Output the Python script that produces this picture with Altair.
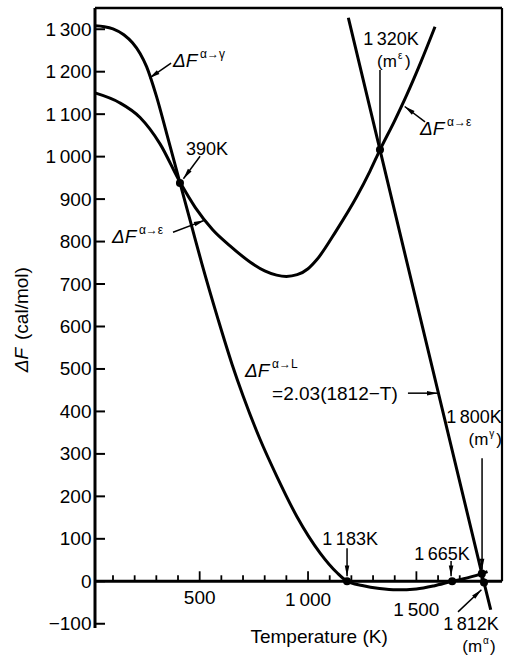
import math
import altair as alt
import pandas as pd

# ---------------- scale frame ----------------
X_MIN, X_MAX = 17, 1895
Y_MIN, Y_MAX = -110, 1350
W, H = 407, 620
PX_T = W / (X_MAX - X_MIN)
PX_F = H / (Y_MAX - Y_MIN)
FONT = "Liberation Sans"
TS = "\u2009"

# ---------------- curves ----------------
gamma_T = [17, 60, 100, 150, 190, 225, 255, 300, 350, 409, 460, 510, 586, 650, 700, 778, 857, 949, 1055, 1134, 1180,
           1250, 1330, 1410, 1500, 1580, 1665, 1735, 1802, 1828]
gamma_F = [1308, 1306, 1301, 1287, 1268, 1243, 1212, 1143, 1050, 938, 842, 748, 615, 510, 437, 335, 246, 152, 67, 20, 0,
           -10, -17, -20, -18, -11, 0, 8, 18, 23]

eps_T = [17, 130, 225, 317, 409, 480, 560, 640, 732, 800, 855, 900, 950, 1000, 1040, 1132, 1225, 1286, 1332,
         1400, 1456, 1520, 1586]
eps_F = [1150, 1127, 1092, 1030, 940, 880, 828, 790, 752, 731, 721, 718, 722, 736, 757, 827, 906, 966, 1016,
         1085, 1146, 1222, 1306]

liq_T = [1186, 1332, 1802, 1812, 1843]
liq_F = [1327, 1016, 18, -3, -67]

# intersection dots
dot_T = [409, 1332, 1180, 1665, 1802, 1812]
dot_F = [938, 1016, 0, 0, 18, -3]

# axis ticks / labels
y_ticks = list(range(-100, 1301, 100))
x_minor = list(range(100, 1801, 100))
x_major = [500, 1000, 1500]
x_lab_T = [500, 1000, 1500]
x_lab_F = [-39, -44, -68]
x_lab_text = ["500", "1" + TS + "000", "1" + TS + "500"]

# ΔF labels with superscripts
dF_T = [377, 95, 709, 1517]
dF_F = [1211, 797, 481, 1051]
dF_sup = ["α→γ", "α→ε", "α→L", "α→ε"]

# formula
formula_T = [834]
formula_F = [427]
formula_text = ["=2.03(1812−T)"]

# temperature labels
k_T = [534, 1383, 1194, 1618, 1752, 1766]
k_F = [1004, 1263, 86, 50, -115, 372]
k_text = ["390K", "1" + TS + "320K", "1" + TS + "183K", "1" + TS + "665K", "1" + TS + "812K", "1" + TS + "800K"]

# (m^x) labels
m_T = [1410, 1832, 1803]
m_F = [1211, 322, -167]
m_sup = ["ε", "γ", "α"]

# arrows
ar_T1 = [368, 502, 377, 1461, 1540, 1180, 1660, 1803, 1692, 1332]
ar_F1 = [1220, 1001, 822, 443, 1082, 78, 48, 290, -72, 1204]
ar_T2 = [268, 425, 522, 1598, 1446, 1180, 1660, 1803, 1800, 1332]
ar_F2 = [1185, 948, 850, 443, 1118, 12, 12, 28, -20, 1026]
ar_head = [True, True, True, True, True, True, True, True, True, False]

# axis titles
xt_T, xt_F = [1051], [-131]
yt_T = [-320, -320]
yt_F = [521, 654]

# ---------------- helpers ----------------
xs = alt.Scale(domain=[X_MIN, X_MAX], nice=False, zero=False)
ys = alt.Scale(domain=[Y_MIN, Y_MAX], nice=False, zero=False)
y_axis = alt.Axis(values=y_ticks,
                  labelExpr="replace(format(datum.value, ','), ',', '" + TS + "')",
                  labelFont=FONT, labelFontSize=19, labelColor="black", labelPadding=4,
                  ticks=False, domain=False, grid=False, title=None)


def X(f):
    return alt.X(f, type="quantitative", scale=xs, axis=None)


def Y(f):
    return alt.Y(f, type="quantitative", scale=ys, axis=y_axis)


def X2(f):
    return alt.X2(f)


def Y2(f):
    return alt.Y2(f)


curves = pd.concat([
    pd.DataFrame({"s": "gamma", "T": gamma_T, "F": gamma_F, "i": range(len(gamma_T))}),
    pd.DataFrame({"s": "eps", "T": eps_T, "F": eps_F, "i": range(len(eps_T))}),
    pd.DataFrame({"s": "liq", "T": liq_T, "F": liq_F, "i": range(len(liq_T))}),
])

frame = pd.DataFrame({
    "T": [X_MIN, X_MIN, X_MAX, X_MIN],
    "T2": [X_MAX, X_MIN, X_MAX, X_MAX],
    "F": [Y_MAX, Y_MIN, 0, 0],
    "F2": [Y_MAX, Y_MAX, Y_MAX, 0],
    "w": [2.5, 3, 2.2, 3],
})

ytick_len = 10 / PX_T
yt_df = pd.DataFrame({"T": X_MIN, "T2": X_MIN + ytick_len, "F": y_ticks})
xt_df = pd.DataFrame({"T": x_minor, "F": 0,
                      "F2": [(10 if t in x_major else 6) / PX_F for t in x_minor]})

arrows = pd.DataFrame({"T": ar_T1, "F": ar_F1, "T2": ar_T2, "F2": ar_F2, "h": ar_head})
angles = []
for t1, f1, t2, f2 in zip(ar_T1, ar_F1, ar_T2, ar_F2):
    dx = (t2 - t1) * PX_T
    dy = -(f2 - f1) * PX_F
    angles.append(math.degrees(math.atan2(dx, -dy)) % 360)
arrows["a"] = angles
heads = arrows[arrows["h"]]

layers = []

layers.append(alt.Chart(frame).mark_rule(color="black").encode(
    x=X("T"), x2=X2("T2"), y=Y("F"), y2=Y2("F2"),
    strokeWidth=alt.StrokeWidth("w:Q", scale=None)))

layers.append(alt.Chart(yt_df).mark_rule(color="black", strokeWidth=2).encode(
    x=X("T"), x2=X2("T2"), y=Y("F")))
layers.append(alt.Chart(xt_df).mark_rule(color="black", strokeWidth=1.8).encode(
    x=X("T"), y=Y("F"), y2=Y2("F2")))

layers.append(alt.Chart(curves).mark_line(color="black", strokeWidth=3, interpolate="monotone").encode(
    x=X("T"), y=Y("F"), detail="s:N", order="i:Q"))

layers.append(alt.Chart(arrows).mark_rule(color="black", strokeWidth=1.5).encode(
    x=X("T"), x2=X2("T2"), y=Y("F"), y2=Y2("F2")))
layers.append(alt.Chart(heads).mark_point(
    shape="M0,0L-0.3,1.4L0.3,1.4Z", filled=True, color="black", opacity=1, size=230, strokeWidth=0).encode(
    x=X("T2"), y=Y("F2"), angle=alt.Angle("a:Q", scale=None)))

layers.append(alt.Chart(pd.DataFrame({"T": dot_T, "F": dot_F})).mark_circle(
    color="black", opacity=1, size=65).encode(x=X("T"), y=Y("F")))

# x tick labels
layers.append(alt.Chart(pd.DataFrame({"T": x_lab_T, "F": x_lab_F, "t": x_lab_text})).mark_text(
    font=FONT, fontSize=19, align="center", baseline="middle", color="black").encode(
    x=X("T"), y=Y("F"), text="t:N"))

# ΔF labels
dF_df = pd.DataFrame({"T": dF_T, "F": dF_F, "s": dF_sup})
layers.append(alt.Chart(dF_df).mark_text(
    text="ΔF", font=FONT, fontSize=19, fontStyle="italic", align="left", baseline="alphabetic",
    color="black").encode(x=X("T"), y=Y("F")))
layers.append(alt.Chart(dF_df).mark_text(
    font=FONT, fontSize=12, align="left", baseline="alphabetic", dx=27, dy=-9, color="black").encode(
    x=X("T"), y=Y("F"), text="s:N"))

layers.append(alt.Chart(pd.DataFrame({"T": formula_T, "F": formula_F, "t": formula_text})).mark_text(
    font=FONT, fontSize=19, align="left", baseline="alphabetic", color="black").encode(
    x=X("T"), y=Y("F"), text="t:N"))

layers.append(alt.Chart(pd.DataFrame({"T": k_T, "F": k_F, "t": k_text})).mark_text(
    font=FONT, fontSize=18, align="center", baseline="alphabetic", color="black").encode(
    x=X("T"), y=Y("F"), text="t:N"))

m_df = pd.DataFrame({"T": m_T, "F": m_F, "s": m_sup})
layers.append(alt.Chart(m_df).mark_text(
    text="(m", font=FONT, fontSize=17, align="right", baseline="alphabetic", color="black").encode(
    x=X("T"), y=Y("F")))
layers.append(alt.Chart(m_df).mark_text(
    font=FONT, fontSize=10, align="left", baseline="alphabetic", dx=1, dy=-8, color="black").encode(
    x=X("T"), y=Y("F"), text="s:N"))
layers.append(alt.Chart(m_df).mark_text(
    text=")", font=FONT, fontSize=17, align="left", baseline="alphabetic", dx=8, color="black").encode(
    x=X("T"), y=Y("F")))

# axis titles
layers.append(alt.Chart(pd.DataFrame({"T": xt_T, "F": xt_F})).mark_text(
    text="Temperature (K)", font=FONT, fontSize=19, align="center", baseline="middle", color="black").encode(
    x=X("T"), y=Y("F")))
yt_df2 = pd.DataFrame({"T": yt_T, "F": yt_F, "t": ["ΔF", "(cal/mol)"]})
layers.append(alt.Chart(yt_df2.iloc[[0]]).mark_text(
    font=FONT, fontSize=19, fontStyle="italic", angle=270, align="center", baseline="middle",
    color="black").encode(x=X("T"), y=Y("F"), text="t:N"))
layers.append(alt.Chart(yt_df2.iloc[[1]]).mark_text(
    font=FONT, fontSize=19, angle=270, align="center", baseline="middle",
    color="black").encode(x=X("T"), y=Y("F"), text="t:N"))

chart = alt.layer(*layers).properties(
    width=W, height=H,
    padding={"left": 95, "top": 8, "right": 3, "bottom": 29},
    autosize=alt.AutoSizeParams(type="none"),
    background="white",
).configure_view(stroke=None)

chart.save("out.html", embed_options={"renderer": "svg", "actions": False})
